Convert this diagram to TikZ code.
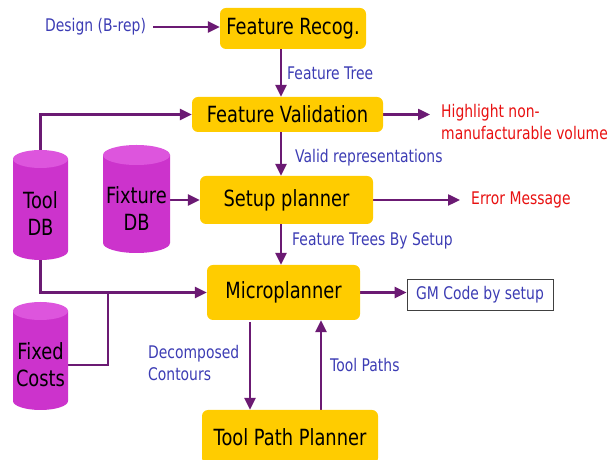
\documentclass[tikz,border=0pt]{standalone}
\usepackage{fontspec}
\setmainfont{DejaVu Sans}[FakeStretch=0.8]
\usetikzlibrary{arrows.meta,backgrounds}
\definecolor{boxgold}{HTML}{FFCC00}
\definecolor{flowpurple}{HTML}{6B1A73}
\definecolor{lblblue}{HTML}{3C3CB4}
\definecolor{errred}{HTML}{E81010}
\definecolor{cylbody}{HTML}{CC33CC}
\definecolor{cyltop}{HTML}{DD55DD}
\tikzset{
  procbox/.style={fill=boxgold, rounded corners=6pt, inner sep=0pt, font=\fontsize{22.3}{27}\selectfont},
  lbl/.style={text=lblblue, inner sep=1pt, anchor=west, align=left, font=\fontsize{17.4}{22}\selectfont},
  errlbl/.style={text=errred, inner sep=1pt, anchor=west, align=left, font=\fontsize{17.4}{22}\selectfont},
  flow/.style={draw=flowpurple, line width=2.4pt, -{Triangle[length=12pt,width=11pt]}},
  flowline/.style={draw=flowpurple, line width=2.4pt},
  cyltext/.style={inner sep=0pt, align=center, text=black, font=\fontsize{22.3}{27}\selectfont},
  outbox/.style={draw=black!75, line width=0.8pt, fill=white, text=lblblue, inner sep=0pt, font=\fontsize{17.4}{22}\selectfont}
}
% name, cx, ytop, ybot, rx, ry, text
\newcommand\mycylinder[7]{%
  \fill[cylbody] ({#2-#5},{#3-#6}) -- ({#2-#5},{#4+#6})
     arc[start angle=180, end angle=360, x radius=#5, y radius=#6]
     -- ({#2+#5},{#3-#6}) -- cycle;
  \fill[cyltop] (#2,{#3-#6}) ellipse[x radius=#5, y radius=#6];
  \node[cyltext, minimum width={2*#5}, minimum height={#3-#4-2*#6}] (#1) at (#2,{(#3-2*#6+#4)/2}) {#7};
}
\begin{document}
\begin{tikzpicture}[x=1pt,y=1pt]
\useasboundingbox (0,0) rectangle (610,460);

% process boxes
\node[procbox, minimum width=146, minimum height=41] (FR) at (293,431.5) {Feature Recog.};
\node[procbox, minimum width=191, minimum height=35] (FV) at (287.5,345.5) {Feature Validation};
\node[procbox, minimum width=173, minimum height=48] (SP) at (286.5,260) {Setup planner};
\node[procbox, minimum width=153, minimum height=55] (MP) at (283.5,167.5) {Microplanner};
\node[procbox, minimum width=176, minimum height=54] (TPP) at (290,23) {Tool Path Planner};
\node[outbox, minimum width=146, minimum height=31] (GM) at (480,165.5) {GM Code by setup};

% cylinders
\mycylinder{tool}{40.5}{310}{200}{27.5}{9}{Tool\\DB}
\mycylinder{fixture}{136.5}{315}{207}{33.5}{10}{Fixture\\DB}
\mycylinder{fixed}{40.5}{158}{50}{27.5}{9}{Fixed\\Costs}

% free text
\node[lbl] (design) at (44,433) {Design (B-rep)};
\node[lbl] (lfr) at (286,387) {Feature Tree};
\node[lbl] (lvr) at (294,302) {Valid representations};
\node[lbl] (lft) at (291,219) {Feature Trees By Setup};
\node[lbl] (ldc) at (147,97) {Decomposed\\Contours};
\node[lbl] (ltp) at (329,95) {Tool Paths};
\node[errlbl] (hl) at (440,338) {Highlight non-\\manufacturable volume};
\node[errlbl] (em) at (470,260) {Error Message};

\coordinate (ax) at (281,0);
\coordinate (dx) at (250,0);
\coordinate (ux) at (321,0);
\coordinate (hlend) at (430,345.5);
\coordinate (emend) at (460,260);
\coordinate (jn) at (108,167.5);

\begin{scope}[on background layer]
\draw[flow] (design.east) ++(6,0) -- (FR.west |- design.east);
\draw[flow] (FR.south -| ax) -- (FV.north -| ax);
\draw[flow] (FV.south -| ax) -- (SP.north -| ax);
\draw[flow] (SP.south -| ax) -- (MP.north -| ax);
\draw[flow] (tool.north) |- (FV.west);
\draw[flow] (tool.south) |- (MP.west);
\draw[flowline] (fixed.east) -| (jn);
\draw[flow] (SP.west -| fixture.east) -- (SP.west);
\draw[flow] (FV.east) -- (hlend);
\draw[flow] (SP.east) -- (emend);
\draw[flow] (MP.east) -- (GM.west |- MP.east);
\draw[flow] ([yshift=-2pt]MP.south -| dx) -- (TPP.north -| dx);
\draw[flow] ([yshift=-2pt]TPP.north -| ux) -- (MP.south -| ux);
\end{scope}
\end{tikzpicture}
\end{document}
